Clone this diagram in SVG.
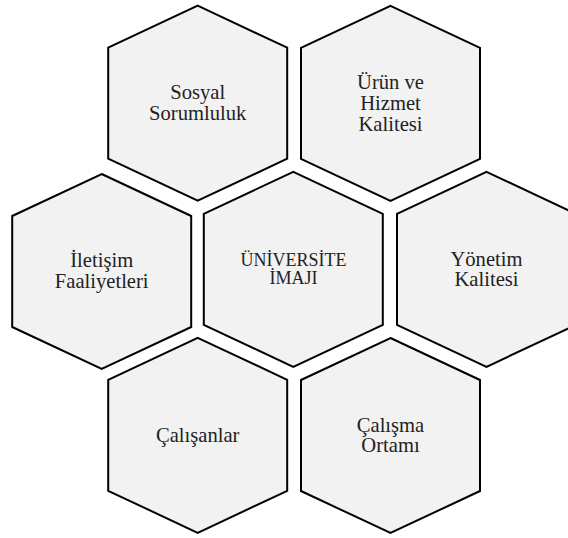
<svg xmlns="http://www.w3.org/2000/svg" width="568" height="538" viewBox="0 0 568 538">
<style>
.hex{fill:#f2f2f2;stroke:#000;stroke-width:2;stroke-linejoin:miter}
.t{font-family:'Liberation Serif','Times New Roman',serif;font-size:20.6px;fill:#222;text-anchor:middle}
.s{font-size:18px}
</style>
<defs>
<polygon id="hx" class="hex" points="0,-97.5 89.5,-55.5 89.5,55.5 0,97.5 -89.5,55.5 -89.5,-55.5"/>
</defs>
<rect width="568" height="538" fill="#fff"/>
<g id="connectors"/>
<g id="sosyal">
<use href="#hx" x="197.7" y="103.2"/>
<text class="t" x="197.7" y="99.3">Sosyal</text>
<text class="t" x="197.7" y="119.5">Sorumluluk</text>
</g>
<g id="urun">
<use href="#hx" x="390.5" y="103.3"/>
<text class="t" x="390.5" y="89.3">Ürün ve</text>
<text class="t" x="390.5" y="110">Hizmet</text>
<text class="t" x="390.5" y="130.7">Kalitesi</text>
</g>
<g id="iletisim">
<use href="#hx" x="101.7" y="271.5"/>
<text class="t" x="101.7" y="266.7">İletişim</text>
<text class="t" x="101.7" y="288.3">Faaliyetleri</text>
</g>
<g id="universite">
<use href="#hx" x="293.3" y="269.3"/>
<text class="t s" x="293.5" y="265.7">ÜNİVERSİTE</text>
<text class="t s" x="293.5" y="284">İMAJI</text>
</g>
<g id="yonetim">
<use href="#hx" x="486.5" y="269.3"/>
<text class="t" x="486.5" y="265.7">Yönetim</text>
<text class="t" x="486.5" y="285.7">Kalitesi</text>
</g>
<g id="calisanlar">
<use href="#hx" x="197.7" y="435.3"/>
<text class="t" x="197.7" y="441.7">Çalışanlar</text>
</g>
<g id="calisma">
<use href="#hx" x="390.5" y="435.5"/>
<text class="t" x="390.5" y="431.7">Çalışma</text>
<text class="t" x="390.5" y="451.7">Ortamı</text>
</g>
</svg>
